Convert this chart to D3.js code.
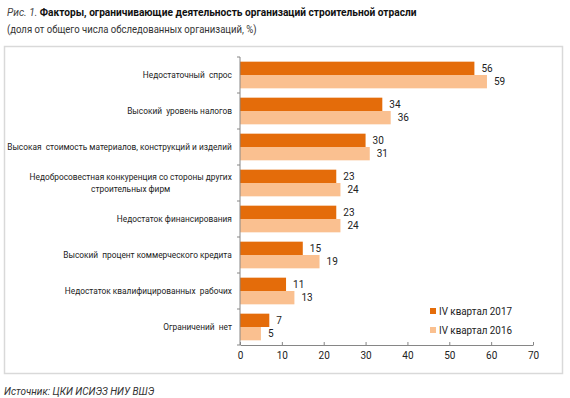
<!DOCTYPE html>
<html><head><meta charset="utf-8">
<script src="https://cdn.jsdelivr.net/npm/d3@7"></script>
<style>body{margin:0;background:#fff}svg{display:block}</style>
</head><body>
<svg id="c" width="570" height="398"></svg>
<script>
const categories = [
  "Недостаточный  спрос",
  "Высокий  уровень налогов",
  "Высокая  стоимость материалов, конструкций и изделий",
  "Недобросовестная конкуренция со стороны других|строительных фирм",
  "Недостаток финансирования",
  "Высокий  процент коммерческого кредита",
  "Недостаток квалифицированных  рабочих",
  "Ограничений  нет"
];
const series2017 = [56, 34, 30, 23, 23, 15, 11, 7];
const series2016 = [59, 36, 31, 24, 24, 19, 13, 5];
const seriesNames = ["IV квартал 2017", "IV квартал 2016"];
const xTicks = [0, 10, 20, 30, 40, 50, 60, 70];
const colors = ["#E46C0A", "#FAC090"];

const svg = d3.select("#c");
const font = "Roboto, 'Liberation Sans', Arial, sans-serif";

// horizontally fit a text to a target width
function fitWidth(sel, anchorX, target) {
  const w = sel.node().getComputedTextLength();
  const f = target / w;
  sel.attr("transform", `translate(${anchorX},0) scale(${f},1) translate(${-anchorX},0)`);
}

// title
const t = svg.append("text").attr("x", 7).attr("y", 16).attr("font-family", font).attr("font-size", 11.5);
t.append("tspan").attr("font-style", "italic").attr("fill", "#444").text("Рис. 1. ");
t.append("tspan").attr("font-weight", "bold").attr("fill", "#111").text("Факторы, ограничивающие деятельность организаций строительной отрасли");
fitWidth(t, 7, 410);
const st = svg.append("text").attr("x", 7).attr("y", 33).attr("font-family", font).attr("font-size", 10.5).attr("fill", "#333")
  .text("(доля от общего числа обследованных организаций, %)");
fitWidth(st, 7, 250);

// frame
svg.append("rect").attr("x", 4.5).attr("y", 46.5).attr("width", 558).attr("height", 327)
  .attr("fill", "none").attr("stroke", "#d9d9d9").attr("stroke-width", 1.5);

// source
svg.append("text").attr("x", 4).attr("y", 395).attr("font-family", font).attr("font-size", 10)
  .attr("font-style", "italic").attr("fill", "#333").text("Источник: ЦКИ ИСИЭЗ НИУ ВШЭ");

const x = d3.scaleLinear().domain([0, 70]).range([240, 533]);
const y = d3.scaleBand().domain(categories).range([57, 345]).padding(0);
const sub = d3.scaleBand().domain([0, 1]).range([0, y.bandwidth()]).paddingInner(0).paddingOuter(0.35);

const data = categories.map((c, i) => ({c, v: [series2017[i], series2016[i]]}));

const g = svg.append("g");
data.forEach(d => {
  d.v.forEach((v, k) => {
    g.append("rect").attr("x", x(0)).attr("y", y(d.c) + sub(k))
      .attr("width", x(v) - x(0)).attr("height", sub.bandwidth()).attr("fill", colors[k]);
    g.append("text").attr("x", x(v) + 7).attr("y", y(d.c) + sub(k) + sub.bandwidth() / 2)
      .attr("dy", "0.36em").attr("font-family", font).attr("font-size", 10).attr("fill", "#222").text(v);
  });
});

// x axis
const xa = svg.append("g").attr("transform", `translate(0,345)`)
  .call(d3.axisBottom(x).tickValues(xTicks).tickSizeInner(-3).tickSizeOuter(0).tickPadding(7));
xa.select(".domain").attr("stroke", "#868686");
xa.selectAll(".tick line").attr("stroke", "#868686");
xa.selectAll("text").attr("font-family", font).attr("font-size", 10).attr("fill", "#222");

// y axis line and ticks between categories
svg.append("line").attr("x1", 240).attr("x2", 240).attr("y1", 57).attr("y2", 345).attr("stroke", "#868686");
const bounds = categories.map(c => y(c)).concat([y.range()[1]]);
svg.selectAll(".yt").data(bounds).enter().append("line")
  .attr("x1", 237).attr("x2", 240).attr("y1", d => d).attr("y2", d => d).attr("stroke", "#868686");

// category labels (condensed horizontally)
const right = 232;
const labelGroup = svg.append("g");
data.forEach(d => {
  const lines = d.c.split("|");
  const cy = y(d.c) + y.bandwidth() / 2;
  const lh = 12;
  const txt = labelGroup.append("text").attr("font-family", font).attr("font-size", 9.5).attr("fill", "#222")
    .attr("xml:space", "preserve");
  const spans = lines.map((l, i) => txt.append("tspan").attr("y", cy + (i - (lines.length - 1) / 2) * lh).attr("dy", "0.35em").text(l));
  const widths = spans.map(s => s.node().getComputedTextLength());
  const maxW = Math.max(...widths);
  spans.forEach(s => s.attr("x", right - maxW / 2).attr("text-anchor", "middle"));
  d.lw = maxW;
});
const longest = d3.max(data, d => d.lw);
const f = 225 / longest;
labelGroup.attr("transform", `translate(${right},0) scale(${f},1) translate(${-right},0)`);

// legend
seriesNames.forEach((n, i) => {
  const ly = 311 + i * 19;
  svg.append("rect").attr("x", 430).attr("y", ly - 3).attr("width", 6).attr("height", 6).attr("fill", colors[i]);
  const lt = svg.append("text").attr("x", 439).attr("y", ly).attr("dy", "0.36em").attr("font-family", font)
    .attr("font-size", 11).attr("fill", "#222").text(n);
  fitWidth(lt, 439, 73);
});
</script>
</body></html>
